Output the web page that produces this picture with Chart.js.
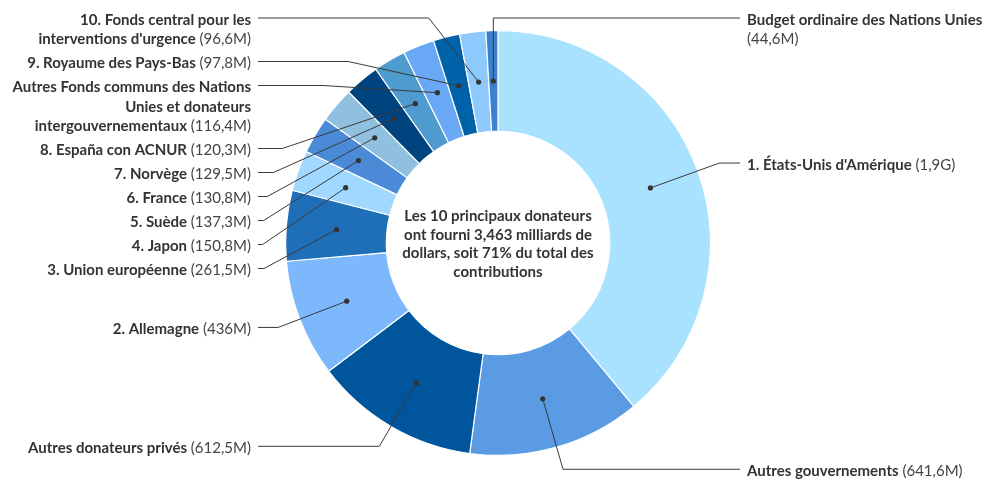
<!DOCTYPE html>
<html>
<head>
<meta charset="utf-8">
<script src="https://cdn.jsdelivr.net/npm/chart.js@4"></script>
<style>
  body { margin: 0; background: #fff; }
  #wrap { width: 986px; height: 479px; }
</style>
</head>
<body>
<div id="wrap"><canvas id="myChart" width="986" height="479"></canvas></div>
<script>
// donors, clockwise from the top (values in millions of USD)
const donors = [
    '1. États-Unis d\'Amérique', 'Autres gouvernements', 'Autres donateurs privés',
    '2. Allemagne', '3. Union européenne', '4. Japon', '5. Suède', '6. France',
    '7. Norvège', '8. España con ACNUR',
    'Autres Fonds communs des Nations Unies et donateurs intergouvernementaux',
    '9. Royaume des Pays-Bas', '10. Fonds central pour les interventions d\'urgence',
    'Budget ordinaire des Nations Unies'
];
const amounts = [1900, 641.6, 612.5, 436, 261.5, 150.8, 137.3, 130.8, 129.5, 120.3, 116.4, 97.8, 96.6, 44.6];
const sliceColors = ['#a8e2ff', '#5a9be4', '#00559c', '#7db8fc', '#1f6eb8', '#a0d8ff', '#4a8ad6',
    '#8fc0e0', '#00447f', '#4d9bcf', '#69a8f5', '#0062a8', '#8dc9fc', '#3a82cf'];
const centerLines = ['Les 10 principaux donateurs', 'ont fourni 3,463 milliards de',
    'dollars, soit 71% du total des', 'contributions'];

const FONT = 'Lato, "Noto Sans", sans-serif';
const SIZE = '15px ';
const textColor = '#333333';

function formatAmount(v) {
    if (v >= 1000) return '(' + String(v / 1000).replace('.', ',') + 'G)';
    return '(' + String(v).replace('.', ',') + 'M)';
}

// split a label into lines of words, name in bold and amount in regular
function wrapLabel(ctx, name, value, maxWidth) {
    const tokens = name.split(' ').map(w => ({text: w, bold: true}));
    tokens.push({text: formatAmount(value), bold: false});
    const lines = [];
    let line = [];
    let width = 0;
    tokens.forEach(tok => {
        ctx.font = (tok.bold ? 'bold ' : '') + SIZE + FONT;
        const w = ctx.measureText(tok.text).width;
        const space = line.length ? ctx.measureText(' ').width : 0;
        if (line.length && width + space + w > maxWidth) {
            lines.push({parts: line, width: width});
            line = [];
            width = 0;
        }
        line.push({text: tok.text, bold: tok.bold, w: w, sp: line.length ? ctx.measureText(' ').width : 0});
        width += (line.length > 1 ? line[line.length - 1].sp : 0) + w;
    });
    lines.push({parts: line, width: width});
    return lines;
}

const labelPlugin = {
    id: 'outsideLabels',
    afterDraw(chart) {
        const ctx = chart.ctx;
        const arcs = chart.getDatasetMeta(0).data;
        const lineH = 19.5;
        const items = arcs.map((arc, i) => {
            const p = arc.getProps(['x', 'y', 'startAngle', 'endAngle', 'innerRadius', 'outerRadius']);
            const a = (p.startAngle + p.endAngle) / 2;
            const rm = (p.innerRadius + p.outerRadius) / 2;
            const rOut = p.outerRadius + 23;
            const dot = {x: p.x + rm * Math.cos(a), y: p.y + rm * Math.sin(a)};
            return {
                i: i, cx: p.x, cy: p.y, rOut: rOut, dot: dot,
                right: dot.x >= p.x - 10,
                natY: p.y + rOut * Math.sin(a),
                lines: wrapLabel(ctx, donors[i], amounts[i], 242)
            };
        });

        [true, false].forEach(side => {
            const group = items.filter(it => it.right === side).sort((a, b) => a.natY - b.natY);
            let next = 18;
            group.forEach(it => {
                it.y = Math.max(it.natY, next);
                next = it.y + it.lines.length * lineH + 4.5;
            });
        });

        ctx.save();
        items.forEach(it => {
            const dy = it.y - it.cy;
            const half = Math.abs(dy) < it.rOut ? Math.sqrt(it.rOut * it.rOut - dy * dy) : 0;
            let ex = it.right ? it.cx + half : it.cx - half;
            if (it.right && it.dot.x < it.cx) ex = it.dot.x;
            if (!it.right && it.dot.x > it.cx) ex = it.dot.x;
            const lineEnd = it.right ? it.cx + 242 : it.cx - 240;
            const textX = it.right ? it.cx + 249 : it.cx - 247;

            ctx.strokeStyle = '#3a3a3a';
            ctx.lineWidth = 1;
            ctx.beginPath();
            ctx.moveTo(it.dot.x, it.dot.y);
            ctx.lineTo(ex, it.y);
            ctx.lineTo(lineEnd, it.y);
            ctx.stroke();

            ctx.fillStyle = '#333333';
            ctx.beginPath();
            ctx.arc(it.dot.x, it.dot.y, 2.6, 0, Math.PI * 2);
            ctx.fill();

            ctx.textBaseline = 'middle';
            ctx.textAlign = 'left';
            it.lines.forEach((ln, k) => {
                let x = it.right ? textX : textX - ln.width;
                const y = it.y + 2 + k * lineH;
                ln.parts.forEach((part, j) => {
                    if (j > 0) x += part.sp;
                    ctx.font = (part.bold ? 'bold ' : '') + SIZE + FONT;
                    ctx.fillStyle = part.bold ? textColor : '#444444';
                    ctx.fillText(part.text, x, y);
                    x += part.w;
                });
            });
        });

        // text in the hole
        const c = items[0];
        ctx.font = 'bold ' + SIZE + FONT;
        ctx.fillStyle = textColor;
        ctx.textAlign = 'center';
        centerLines.forEach((t, k) => {
            ctx.fillText(t, c.cx, c.cy - 27 + k * 18.8);
        });
        ctx.restore();
    }
};

const ctx = document.getElementById('myChart').getContext('2d');

const data = {
    labels: donors,
    datasets: [{
        data: amounts,
        backgroundColor: sliceColors,
        borderColor: '#ffffff',
        borderWidth: 1.2,
    }]
};

const config = {
    type: 'doughnut',
    data: data,
    options: {
        responsive: false,
        animation: false,
        cutout: '52.6%',
        layout: {
            padding: {left: 285, right: 275, top: 30, bottom: 23}
        },
        plugins: {
            legend: {display: false},
            tooltip: {enabled: false}
        }
    },
    plugins: [labelPlugin]
};

const myChart = new Chart(ctx, config);
</script>
</body>
</html>
